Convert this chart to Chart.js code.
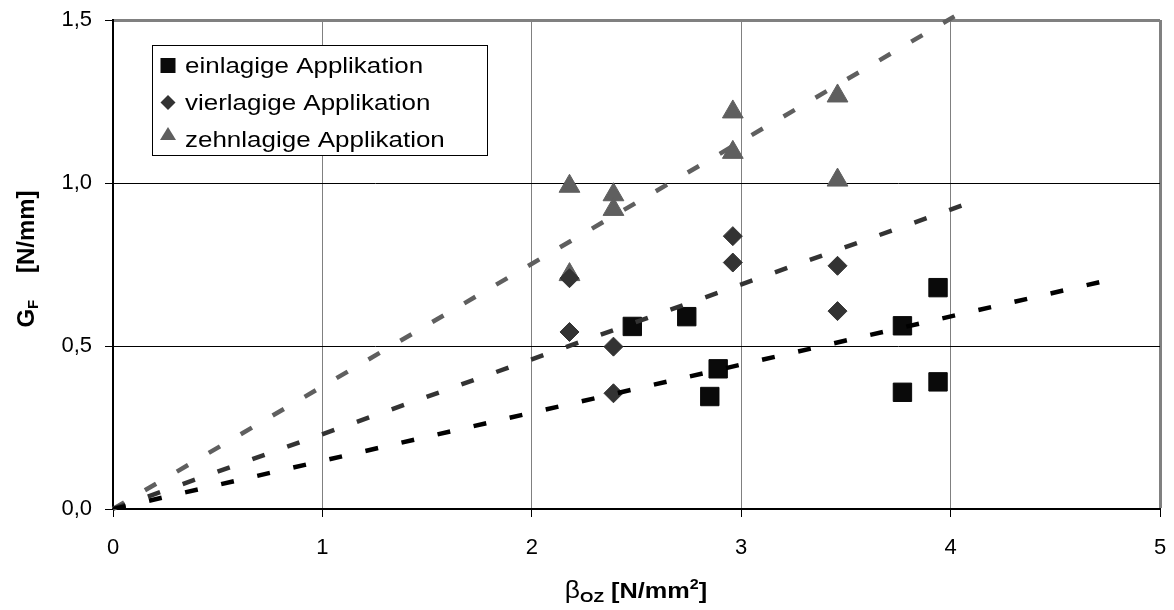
<!DOCTYPE html>
<html>
<head>
<meta charset="utf-8">
<title>GF über betaOZ</title>
<script src="https://cdn.jsdelivr.net/npm/chart.js@4"></script>
<style>
  html, body { margin: 0; padding: 0; background: #fff; }
  #wrap { width: 1174px; height: 610px; }
</style>
</head>
<body>
<div id="wrap"><canvas id="chart" width="1174" height="610"></canvas></div>
<script>
"use strict";

// measured values (x = betaOZ in N/mm², y = GF in N/mm)
const einX  = [2.48, 2.74, 2.89, 2.85, 3.77, 3.94, 3.77, 3.94];
const einY  = [0.560, 0.590, 0.430, 0.345, 0.562, 0.679, 0.358, 0.390];
const vierX = [2.18, 2.39, 2.39, 2.18, 2.96, 2.96, 3.46, 3.46];
const vierY = [0.543, 0.498, 0.355, 0.708, 0.837, 0.756, 0.746, 0.607];
const zehnX = [2.18, 2.39, 2.39, 2.18, 2.96, 2.96, 3.46, 3.46];
const zehnY = [0.990, 0.964, 0.919, 0.719, 1.218, 1.094, 1.267, 1.009];

// trend lines (start / end)
const einTrendX  = [0, 4.72];
const einTrendY  = [0, 0.697];
const vierTrendX = [0, 4.12];
const vierTrendY = [0, 0.946];
const zehnTrendX = [0, 4.05];
const zehnTrendY = [0, 1.523];

const seriesNames = ['einlagige Applikation', 'vierlagige Applikation', 'zehnlagige Applikation'];
const xTickLabels = ['0', '1', '2', '3', '4', '5'];
const yTickLabels = ['0,0', '0,5', '1,0', '1,5'];

const colEin = '#0a0a0a';
const colVier = '#333333';
const colZehn = '#5f5f5f';
const FONT = '"Liberation Sans", Arial, sans-serif';

const toPts = (xs, ys) => xs.map((x, i) => ({x: x, y: ys[i]}));

function pointSet(label, xs, ys, style, radius, color) {
  return {
    label: label,
    data: toPts(xs, ys),
    pointStyle: style,
    pointRadius: radius,
    backgroundColor: color,
    borderColor: color,
    borderWidth: 1,
    showLine: false,
    order: 2
  };
}

function trendSet(xs, ys, color, clip) {
  return {
    label: 'trend',
    data: toPts(xs, ys),
    showLine: true,
    pointRadius: 0,
    borderColor: color,
    borderWidth: 4.5,
    borderDash: [13, 24],
    borderCapStyle: 'butt',
    fill: false,
    clip: clip,
    order: 1
  };
}

// text made of parts (sub/superscripts), centred on x
function drawRich(ctx, parts, x, y, sx) {
  let w = 0;
  parts.forEach(p => { ctx.font = p.f; w += ctx.measureText(p.t).width; });
  ctx.save();
  ctx.translate(x, y);
  ctx.scale(sx, 1);
  let cx = -w / 2;
  parts.forEach(p => {
    ctx.font = p.f;
    ctx.fillText(p.t, cx, p.dy || 0);
    cx += ctx.measureText(p.t).width;
  });
  ctx.restore();
}

const extras = {
  id: 'extras',
  afterDraw(chart) {
    const ctx = chart.ctx;
    ctx.save();
    // legend
    ctx.fillStyle = '#fff';
    ctx.fillRect(152.5, 45.5, 335, 110);
    ctx.strokeStyle = '#000';
    ctx.lineWidth = 1;
    ctx.strokeRect(152.5, 45.5, 335, 110);

    const mx = 168;
    ctx.fillStyle = colEin;
    ctx.fillRect(mx - 7.5, 58, 15, 15);
    ctx.fillStyle = colVier;
    ctx.beginPath();
    ctx.moveTo(mx, 95); ctx.lineTo(mx + 7.5, 102.5); ctx.lineTo(mx, 110); ctx.lineTo(mx - 7.5, 102.5);
    ctx.closePath(); ctx.fill();
    ctx.fillStyle = colZehn;
    ctx.beginPath();
    ctx.moveTo(mx, 127); ctx.lineTo(mx + 8, 140); ctx.lineTo(mx - 8, 140);
    ctx.closePath(); ctx.fill();

    ctx.fillStyle = '#000';
    ctx.textBaseline = 'alphabetic';
    ctx.font = '22px ' + FONT;
    const rows = [73, 110, 147];
    seriesNames.forEach((name, i) => {
      ctx.save();
      ctx.translate(185, rows[i]);
      ctx.scale(1.18, 1);
      ctx.fillText(name, 0, 0);
      ctx.restore();
    });

    // x title
    drawRich(ctx, [
      {t: 'β', f: '23px ' + FONT},
      {t: 'OZ', f: 'bold 15px ' + FONT, dy: 4},
      {t: ' [N/mm', f: 'bold 22px ' + FONT},
      {t: '2', f: 'bold 14px ' + FONT, dy: -9},
      {t: ']', f: 'bold 22px ' + FONT}
    ], 636, 598, 1.15);

    // y title
    ctx.save();
    ctx.translate(34, 259);
    ctx.rotate(-Math.PI / 2);
    drawRich(ctx, [
      {t: 'G', f: 'bold 24px ' + FONT},
      {t: 'F', f: 'bold 15px ' + FONT, dy: 4},
      {t: '    [N/mm]', f: 'bold 24px ' + FONT}
    ], 0, 0, 1);
    ctx.restore();

    ctx.restore();
  }
};

const ctx = document.getElementById('chart').getContext('2d');
const myChart = new Chart(ctx, {
  type: 'scatter',
  data: {
    datasets: [
      trendSet(einTrendX, einTrendY, '#000000', true),
      trendSet(vierTrendX, vierTrendY, colVier, true),
      trendSet(zehnTrendX, zehnTrendY, colZehn, false),
      pointSet(seriesNames[0], einX, einY, 'rect', 13, colEin),
      pointSet(seriesNames[1], vierX, vierY, 'rectRot', 9.5, colVier),
      pointSet(seriesNames[2], zehnX, zehnY, 'triangle', 12, colZehn)
    ]
  },
  options: {
    responsive: false,
    animation: false,
    layout: { padding: { top: 20, right: 13, left: 0, bottom: 0 } },
    plugins: {
      legend: { display: false },
      tooltip: { enabled: false }
    },
    scales: {
      x: {
        type: 'linear',
        min: 0,
        max: 5,
        afterFit: s => { s.height = 101; s.paddingLeft = 0; s.paddingRight = 0; },
        ticks: {
          stepSize: 1,
          color: '#000',
          padding: 18,
          font: { family: FONT, size: 22 },
          callback: (v) => xTickLabels[Math.round(v)]
        },
        grid: {
          color: c => (c.tick && c.tick.value === 0) ? '#000' : '#808080',
          lineWidth: c => (c.tick && c.tick.value === 5) ? 3 : 1,
          tickColor: '#000',
          tickLength: 8,
          tickWidth: 1
        },
        border: { color: '#000', width: 2 }
      },
      y: {
        type: 'linear',
        min: 0,
        max: 1.5,
        afterFit: s => { s.width = 113; s.paddingTop = 0; s.paddingBottom = 0; },
        ticks: {
          stepSize: 0.5,
          color: '#000',
          padding: 13,
          font: { family: FONT, size: 22 },
          callback: (v) => yTickLabels[Math.round(v * 2)]
        },
        grid: {
          color: c => (c.tick && c.tick.value === 1.5) ? '#808080' : '#000',
          lineWidth: c => (c.tick && c.tick.value === 1.5) ? 3 : 1,
          tickColor: '#000',
          tickLength: 8,
          tickWidth: 1
        },
        border: { color: '#000', width: 2 }
      }
    }
  },
  plugins: [extras]
});
</script>
</body>
</html>
